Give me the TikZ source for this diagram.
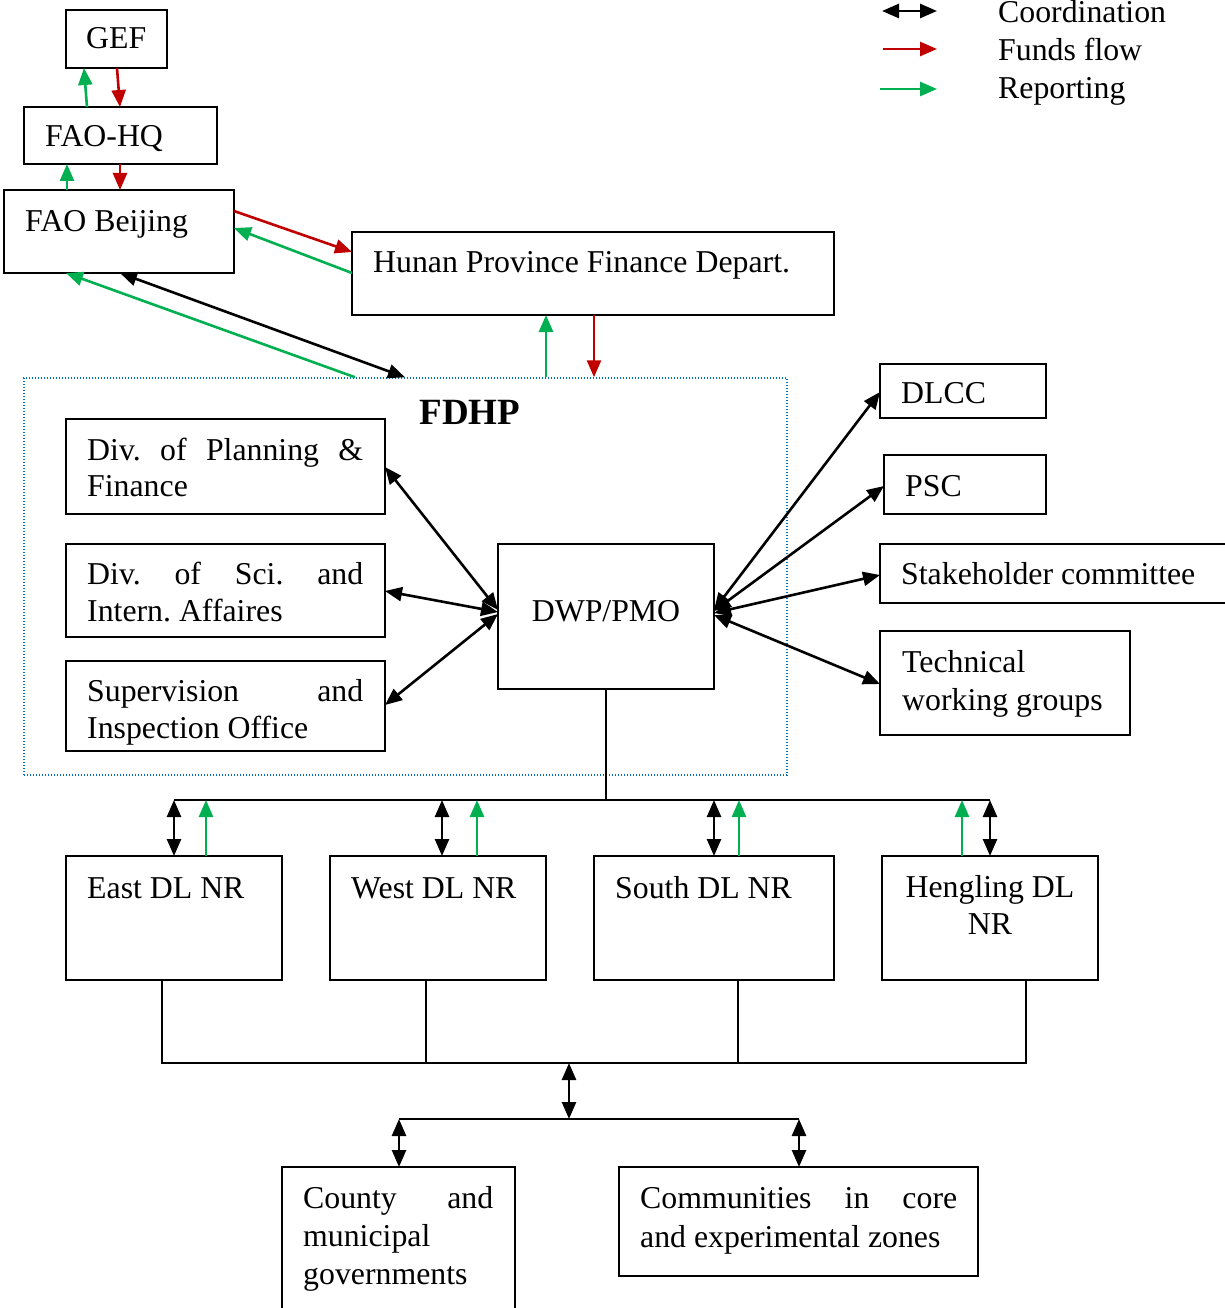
\documentclass[tikz,border=0pt]{standalone}
\usepackage{fontspec}
\setmainfont{Liberation Serif}
\usetikzlibrary{arrows.meta}
\definecolor{fred}{RGB}{192,0,0}
\definecolor{fgreen}{RGB}{0,176,80}
\definecolor{fblue}{RGB}{0,112,192}
\frenchspacing
\begin{document}
\frenchspacing
\begin{tikzpicture}[x=1pt,y=-1pt,
  box/.style={draw,line width=1.6pt,inner sep=0pt,outer sep=0pt},
  txt/.style={anchor=base west,inner sep=0pt,font=\fontsize{31.8}{37}\selectfont},
  ctxt/.style={anchor=base,inner sep=0pt,font=\fontsize{31.8}{37}\selectfont},
  tip/.style={-{Triangle[length=17pt,width=14pt]}},
  dtip/.style={{Triangle[length=17pt,width=14pt]}-{Triangle[length=17pt,width=14pt]}},
  coord/.style={dtip,line width=2.6pt,black},
  fund/.style={tip,line width=2.6pt,fred},
  rep/.style={tip,line width=2.6pt,fgreen},
  tree/.style={line width=1.6pt,black}]
\useasboundingbox (0,0) rectangle (1224,1308);

% ---------- boxes ----------
\node[box,minimum width=101pt,minimum height=58pt] (gef) at (116.5,39) {};
\node[box,minimum width=193pt,minimum height=57pt] (faohq) at (120.5,135.5) {};
\node[box,minimum width=230pt,minimum height=83pt] (faob) at (119,231.5) {};
\node[box,minimum width=482pt,minimum height=83pt] (hunan) at (593,273.5) {};
\node[draw=fblue,line width=1.5pt,dash pattern=on 1.4pt off 1.6pt,inner sep=0pt,minimum width=763pt,minimum height=397pt] (fdhp) at (405.5,576.5) {};
\node[box,minimum width=319pt,minimum height=95pt] (dpf) at (225.5,466.5) {};
\node[box,minimum width=319pt,minimum height=93pt] (dsci) at (225.5,590.5) {};
\node[box,minimum width=319pt,minimum height=90pt] (dsup) at (225.5,706) {};
\node[box,minimum width=216pt,minimum height=145pt] (dwp) at (606,616.5) {};
\node[box,minimum width=166pt,minimum height=54pt] (dlcc) at (963,391) {};
\node[box,minimum width=162pt,minimum height=59pt] (psc) at (965,484.5) {};
\node[box,minimum width=360pt,minimum height=59pt] (stake) at (1060,573.5) {};
\node[box,minimum width=250pt,minimum height=104pt] (tech) at (1005,683) {};
\node[box,minimum width=216pt,minimum height=124pt] (east) at (174,918) {};
\node[box,minimum width=216pt,minimum height=124pt] (west) at (438,918) {};
\node[box,minimum width=240pt,minimum height=124pt] (south) at (714,918) {};
\node[box,minimum width=216pt,minimum height=124pt] (heng) at (990,918) {};
\node[box,minimum width=233pt,minimum height=153pt] (county) at (398.5,1243.5) {};
\node[box,minimum width=359pt,minimum height=109pt] (comm) at (798.5,1221.5) {};

% ---------- texts ----------
\node[txt] (tgef) at (86,49) {GEF};
\node[txt] (tfaohq) at (45,147) {FAO-HQ};
\node[txt] (tfaob) at (25,231) {FAO Beijing};
\node[txt] (thunan) at (373,272) {Hunan Province Finance Depart.};
\node[ctxt,font=\fontsize{37}{42}\selectfont\bfseries] (tfdhp) at (470,424) {FDHP};
\node[txt] (tdpf1) at (87,460) {\makebox[276pt][s]{Div. of Planning \&}};
\node[txt] (tdpf2) at (87,496) {Finance};
\node[txt] (tdsci1) at (87,584) {\makebox[276pt][s]{Div. of Sci. and}};
\node[txt] (tdsci2) at (87,621) {Intern. Affaires};
\node[txt] (tdsup1) at (87,701) {\makebox[276pt][s]{Supervision and}};
\node[txt] (tdsup2) at (87,738) {Inspection Office};
\node[ctxt] (tdwp) at (606,621) {DWP/PMO};
\node[txt] (tdlcc) at (901,403) {DLCC};
\node[txt] (tpsc) at (905,496) {PSC};
\node[txt] (tstake) at (901,584) {Stakeholder committee};
\node[txt] (ttech1) at (902,672) {Technical};
\node[txt] (ttech2) at (902,710) {working groups};
\node[txt] (teast) at (87,898) {East DL NR};
\node[txt] (twest) at (351,898) {West DL NR};
\node[txt] (tsouth) at (615,898) {South DL NR};
\node[ctxt] (theng1) at (990,897) {Hengling DL};
\node[ctxt] (theng2) at (990,934) {NR};
\node[txt] (tcounty1) at (303,1208) {\makebox[190pt][s]{County and}};
\node[txt] (tcounty2) at (303,1246) {municipal};
\node[txt] (tcounty3) at (303,1284) {governments};
\node[txt] (tcomm1) at (640,1208) {\makebox[317pt][s]{Communities in core}};
\node[txt] (tcomm2) at (640,1247) {and experimental zones};

% ---------- legend ----------
\coordinate (lc1) at (882,11); \coordinate (lc2) at (937,11);
\coordinate (lf1) at (883,49); \coordinate (lf2) at (937,49);
\coordinate (lr1) at (880,89); \coordinate (lr2) at (937,89);
\draw[coord] (lc1) -- (lc2);
\draw[fund] (lf1) -- (lf2);
\draw[rep] (lr1) -- (lr2);
\node[txt] (lgc) at (998,23) {Coordination};
\node[txt] (lgf) at (998,61) {Funds flow};
\node[txt] (lgr) at (998,99) {Reporting};

% ---------- top connectors ----------
\draw[fund] (117,0 |- gef.south) -- (120,0 |- faohq.north);
\draw[rep] (87,0 |- faohq.north) -- (84,0 |- gef.south);
\draw[fund] (120,0 |- faohq.south) -- (120,0 |- faob.north);
\draw[rep] (67,0 |- faob.north) -- (67,0 |- faohq.south);
\draw[fund] (faob.east |- 0,211) -- (hunan.west |- 0,252);
\draw[rep] (hunan.west |- 0,273) -- (faob.east |- 0,228);
\draw[coord] (120,0 |- faob.south) -- (405,0 |- fdhp.north);
\draw[rep] (355,0 |- fdhp.north) -- (66,0 |- faob.south);
\draw[rep] (546,0 |- fdhp.north) -- (546,0 |- hunan.south);
\draw[fund] (594,0 |- hunan.south) -- (594,0 |- fdhp.north);

% ---------- DWP/PMO connectors ----------
\draw[coord] (dwp.west |- 0,610) -- (dpf.east |- 0,467);
\draw[coord] (dwp.west |- 0,612) -- (dsci.east |- 0,591);
\draw[coord] (dwp.west |- 0,614) -- (dsup.east |- 0,705);
\draw[coord] (dwp.east |- 0,610) -- (dlcc.west |- 0,392);
\draw[coord] (dwp.east |- 0,611) -- (psc.west |- 0,486);
\draw[coord] (dwp.east |- 0,613) -- (stake.west |- 0,575);
\draw[coord] (dwp.east |- 0,615) -- (tech.west |- 0,684);

% ---------- tree to DL NRs ----------
\coordinate (bus) at (606,800);
\draw[tree] (dwp.south) -- (bus);
\draw[tree] (174,800) -- (990,800);
\draw[coord] (174,0 |- bus) -- (174,0 |- east.north);
\draw[rep] (206,0 |- east.north) -- (206,0 |- bus);
\draw[coord] (442,0 |- bus) -- (442,0 |- west.north);
\draw[rep] (477,0 |- west.north) -- (477,0 |- bus);
\draw[coord] (714,0 |- bus) -- (714,0 |- south.north);
\draw[rep] (739,0 |- south.north) -- (739,0 |- bus);
\draw[coord] (990,0 |- bus) -- (990,0 |- heng.north);
\draw[rep] (962,0 |- heng.north) -- (962,0 |- bus);

% ---------- lower tree ----------
\coordinate (bus2) at (569,1063);
\coordinate (bus3) at (569,1119);
\draw[tree] (162,0 |- east.south) |- (1026,0 |- bus2) -- (1026,0 |- heng.south);
\draw[tree] (426,0 |- west.south) -- (426,0 |- bus2);
\draw[tree] (738,0 |- south.south) -- (738,0 |- bus2);
\draw[coord] (bus2) -- (bus3);
\draw[tree] (399,0 |- bus3) -- (799,0 |- bus3);
\draw[coord] (399,0 |- bus3) -- (399,0 |- county.north);
\draw[coord] (799,0 |- bus3) -- (799,0 |- comm.north);
\end{tikzpicture}
\end{document}
